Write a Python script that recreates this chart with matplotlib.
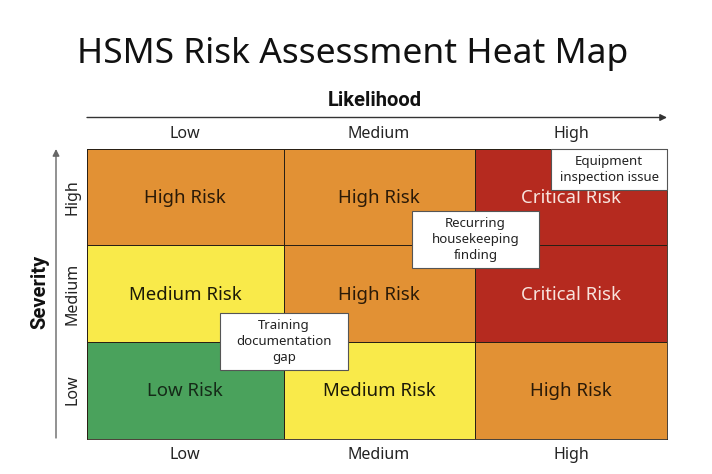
import matplotlib
matplotlib.use("Agg")
import matplotlib.pyplot as plt
from matplotlib.colors import ListedColormap
from matplotlib.patches import FancyArrowPatch, Rectangle
import numpy as np

W, H = 712, 474

likelihood = ["Low", "Medium", "High"]
severity = ["Low", "Medium", "High"]
# rows from low severity up to high severity
risk_levels = [[0, 1, 2],
               [1, 2, 3],
               [2, 2, 3]]
level_names = ["Low Risk", "Medium Risk", "High Risk", "Critical Risk"]
level_colors = ["#4aa25c", "#f9ea4a", "#e29134", "#b52a1f"]
level_text = ["#152a18", "#1c1a08", "#2a1a08", "#f8e4de"]
callouts = ["Training\ndocumentation\ngap", "Recurring\nhousekeeping\nfinding", "Equipment\ninspection issue"]

plt.rcParams["font.family"] = ["Noto Sans", "DejaVu Sans"]


def fx(px):
    return px / W


def fy(py):
    return 1 - py / H


fig = plt.figure(figsize=(W / 100, H / 100), dpi=100, facecolor="white")
ax = fig.add_axes([fx(87), fy(438.5), fx(667 - 87), (438.5 - 149) / H])

xedges = [0, 1.017, 2.007, 3]
yedges = [0, 1, 2, 3]
cmap = ListedColormap(level_colors)
ax.pcolormesh(xedges, yedges, np.array(risk_levels), cmap=cmap, vmin=-0.5, vmax=3.5,
              edgecolors="#2a2015", linewidth=0.5)
ax.set_xlim(0, 3)
ax.set_ylim(0, 3)
ax.set_xticks([])
ax.set_yticks([])
for s in ax.spines.values():
    s.set_linewidth(0.6)
    s.set_color("#2a2015")

for r, row in enumerate(risk_levels):
    for c, lvl in enumerate(row):
        ax.text((xedges[c] + xedges[c + 1]) / 2, r + 0.49, level_names[lvl], ha="center", va="center",
                fontsize=13.4, color=level_text[lvl])

fig.text(fx(352.5), fy(54), "HSMS Risk Assessment Heat Map", ha="center", va="center",
         fontsize=25.5, color="#111111")
fig.text(fx(375), fy(101), "Likelihood", ha="center", va="center", fontsize=14.5,
         fontweight="bold", family="Roboto", color="#111111")
fig.text(fx(40), fy(292), "Severity", ha="center", va="center", rotation=90, fontsize=14.5,
         fontweight="bold", family="Roboto", color="#111111")

# axis arrows
fig.add_artist(FancyArrowPatch(
    (fx(87), fy(117.5)), (fx(667), fy(117.5)), transform=fig.transFigure,
    arrowstyle="-|>", mutation_scale=10, color="#333333", lw=1, shrinkA=0, shrinkB=0))
fig.add_artist(FancyArrowPatch(
    (fx(56), fy(438)), (fx(56), fy(149)), transform=fig.transFigure,
    arrowstyle="-|>", mutation_scale=10, color="#666666", lw=1, shrinkA=0, shrinkB=0))

for label, px in zip(likelihood, [185, 379, 571]):
    fig.text(fx(px), fy(134), label, ha="center", va="center", fontsize=11.5, color="#222222")
    fig.text(fx(px), fy(455), label, ha="center", va="center", fontsize=11.5, color="#222222")
for label, py in zip(severity, [390, 294, 197]):
    fig.text(fx(73), fy(py), label, ha="center", va="center", rotation=90, fontsize=11.5, color="#222222")

boxes = [(220, 313, 348, 370), (412, 211, 539, 268), (551, 149, 667, 190)]
for text, (x0, y0, x1, y1) in zip(callouts, boxes):
    fig.add_artist(Rectangle((fx(x0), fy(y1)), fx(x1 - x0), (y1 - y0) / H, transform=fig.transFigure,
                             facecolor="white", edgecolor="#555555", linewidth=0.8))
    fig.text(fx((x0 + x1) / 2), fy((y0 + y1) / 2), text, ha="center", va="center", fontsize=9.5,
             linespacing=1.35, color="#222222")

fig.savefig("out.png", dpi=100)
